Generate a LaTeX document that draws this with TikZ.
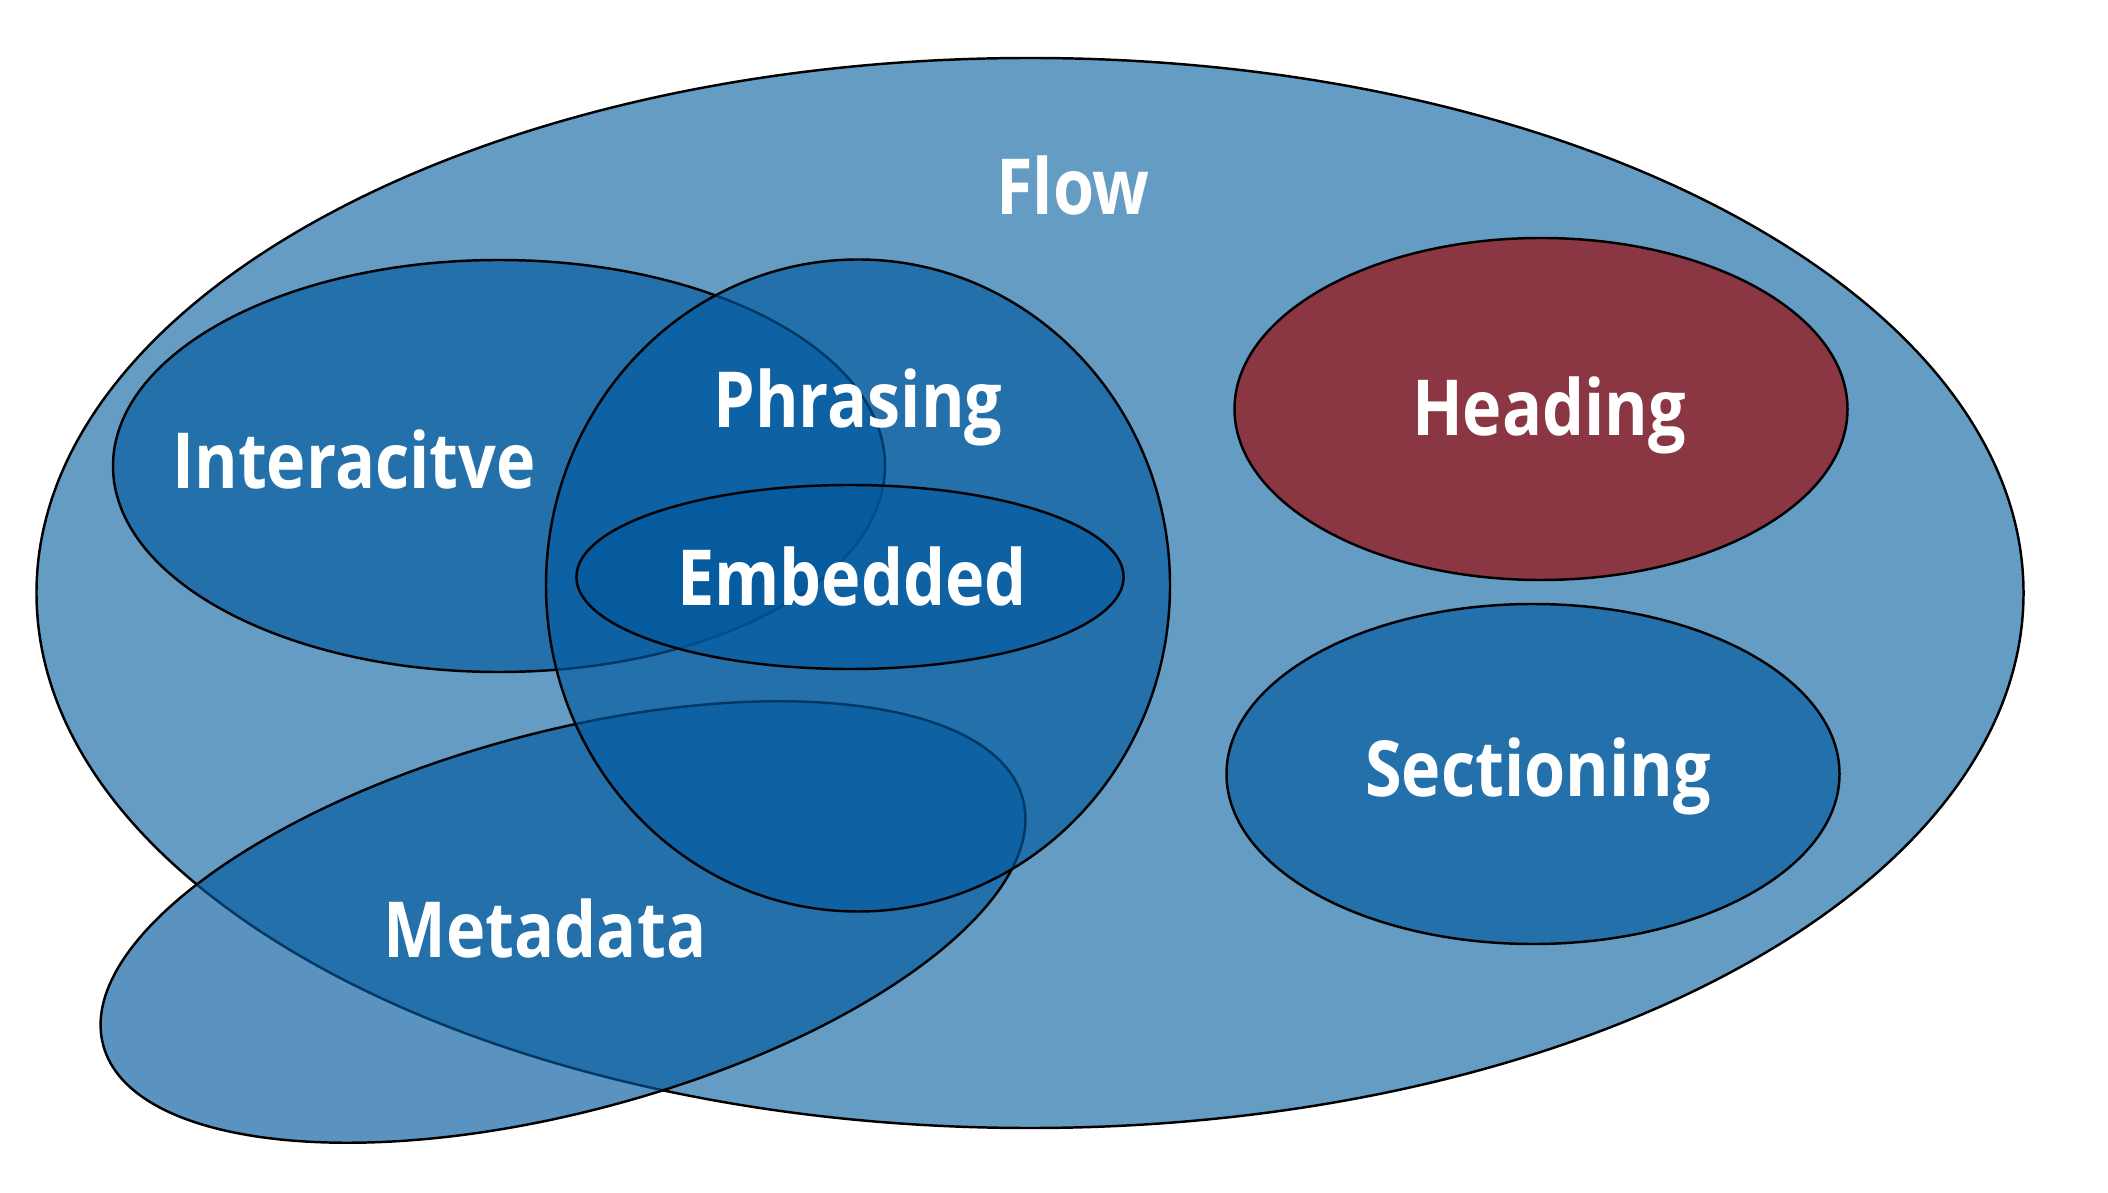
\documentclass[tikz,border=0pt]{standalone}
\usepackage{fontspec}
\newfontfamily\venfont{Open Sans}[FakeStretch=0.86]
\usepackage{tikz}
\usetikzlibrary{positioning}
\usepackage{xcolor}
\definecolor{flowblue}{HTML}{649CC3}
\definecolor{catblue}{HTML}{03599E}
\definecolor{headred}{HTML}{8B3643}

\begin{document}
\begin{tikzpicture}[
  catset/.style={
    draw=black, line width=0.7pt,
    fill=#1, fill opacity=0.65
  },
  catlabel/.style={
    anchor=base, text=white, inner sep=0pt,
    font=\venfont\bfseries\fontsize{22}{26}\selectfont
  }
]
  \useasboundingbox (0,0) rectangle (21.08,11.92);

  % outer set
  \filldraw[draw=black, line width=0.7pt, fill=flowblue] (10.30,5.99) ellipse [x radius=9.935, y radius=5.35];

  \filldraw[catset=catblue] (4.99,7.26) ellipse [x radius=3.86, y radius=2.06];
  \filldraw[catset=catblue, rotate around={15:(5.63,2.70)}] (5.63,2.70) ellipse [x radius=4.76, y radius=1.896];
  \filldraw[catset=catblue] (8.58,6.065) ellipse [x radius=3.12, y radius=3.26];
  \filldraw[catset=catblue] (8.50,6.15) ellipse [x radius=2.736, y radius=0.92];
  \filldraw[draw=black, line width=0.7pt, fill=headred] (15.41,7.83) ellipse [x radius=3.065, y radius=1.71];
  \filldraw[catset=catblue] (15.33,4.18) ellipse [x radius=3.065, y radius=1.70];

  \node[catlabel] (flow) at (10.73,9.77) {Flow};
  \node[catlabel] (phrasing) at (8.58,7.645) {Phrasing};
  \node[catlabel] (interactive) at (3.54,7.03) {Interacitve};
  \node[catlabel] (embedded) at (8.52,5.86) {Embedded};
  \node[catlabel] (heading) at (15.49,7.56) {Heading};
  \node[catlabel] (sectioning) at (15.38,3.95) {Sectioning};
  \node[catlabel] (metadata) at (5.45,2.35) {Metadata};
\end{tikzpicture}
\end{document}
